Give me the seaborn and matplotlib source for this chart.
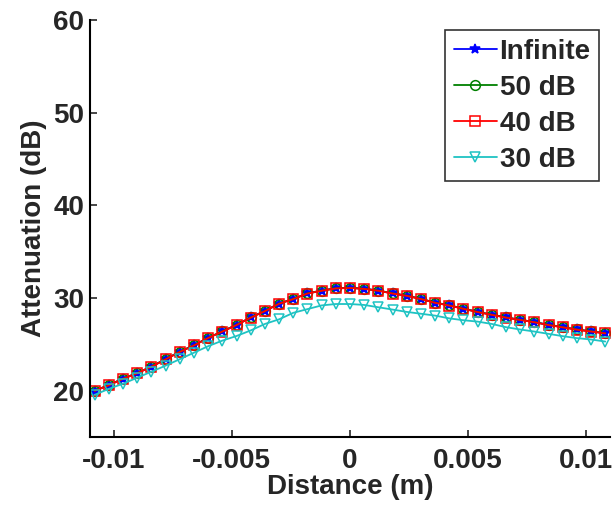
import numpy as np
import pandas as pd
import matplotlib
matplotlib.use("Agg")
import matplotlib.pyplot as plt
import seaborn as sns

# ---- data ----
distance_mm = [-10.8, -10.2, -9.6, -9.0, -8.4, -7.8, -7.2, -6.6, -6.0, -5.4,
               -4.8, -4.2, -3.6, -3.0, -2.4, -1.8, -1.2, -0.6, 0.0, 0.6,
               1.2, 1.8, 2.4, 3.0, 3.6, 4.2, 4.8, 5.4, 6.0, 6.6,
               7.2, 7.8, 8.4, 9.0, 9.6, 10.2, 10.8]
att_infinite = [20.0, 20.6, 21.3, 21.9, 22.6, 23.4, 24.2, 24.9, 25.7, 26.4,
                27.1, 27.9, 28.6, 29.4, 29.9, 30.5, 30.8, 31.05, 31.1, 31.0,
                30.8, 30.5, 30.25, 29.9, 29.5, 29.2, 28.85, 28.5, 28.2, 27.9,
                27.65, 27.4, 27.1, 26.85, 26.6, 26.4, 26.2]
att_50db = [20.0, 20.6, 21.3, 21.9, 22.6, 23.4, 24.2, 24.9, 25.7, 26.4,
            27.1, 27.9, 28.6, 29.4, 29.9, 30.5, 30.8, 31.05, 31.1, 31.0,
            30.8, 30.5, 30.25, 29.9, 29.5, 29.2, 28.85, 28.5, 28.2, 27.9,
            27.65, 27.4, 27.1, 26.85, 26.6, 26.4, 26.2]
att_40db = [19.98, 20.58, 21.28, 21.88, 22.58, 23.38, 24.18, 24.88, 25.68, 26.38,
            27.08, 27.88, 28.58, 29.38, 29.88, 30.48, 30.78, 31.03, 31.08, 30.98,
            30.78, 30.48, 30.23, 29.88, 29.48, 29.18, 28.83, 28.48, 28.18, 27.88,
            27.63, 27.38, 27.08, 26.83, 26.58, 26.38, 26.18]
att_30db = [19.55, 20.2, 20.75, 21.4, 22.05, 22.7, 23.4, 24.1, 24.8, 25.4,
            25.9, 26.5, 27.2, 27.7, 28.4, 28.8, 29.2, 29.35, 29.35, 29.25,
            29.0, 28.75, 28.5, 28.3, 28.1, 27.8, 27.6, 27.45, 27.2, 26.85,
            26.6, 26.38, 26.13, 25.88, 25.67, 25.52, 25.3]
series_names = ["Infinite", "50 dB", "40 dB", "30 dB"]
x_ticks = [-0.01, -0.005, 0, 0.005, 0.01]
x_tick_labels = ["-0.01", "-0.005", "0", "0.005", "0.01"]
y_ticks = [20, 30, 40, 50, 60]

series_values = [att_infinite, att_50db, att_40db, att_30db]
x_m = np.array(distance_mm) / 1000.0

# ---- style ----
sns.set_style("ticks")
plt.rcParams["font.family"] = ["Liberation Sans", "DejaVu Sans"]
plt.rcParams["font.weight"] = "bold"
plt.rcParams["axes.labelweight"] = "bold"

colors = ["#0000FF", "#008000", "#FF0000", "#1FC3C3"]
markers = ["*", "o", "s", "v"]
FS = 20

fig = plt.figure(figsize=(6.14, 5.08), dpi=100)
ax = fig.add_axes([0.1466, 0.1398, 0.8469, 0.8208])

for name, vals, c, m in zip(series_names, series_values, colors, markers):
    df = pd.DataFrame({"Distance": x_m, "Attenuation": vals})
    sns.lineplot(data=df, x="Distance", y="Attenuation", ax=ax, color=c,
                 marker=m, markersize=7 if m != "*" else 7.5,
                 markerfacecolor="none" if m != "*" else c,
                 markeredgecolor=c, markeredgewidth=1.1,
                 linewidth=1.3, label=name)

ax.set_xlim(-0.011, 0.011)
ax.set_ylim(15, 60)
ax.set_xticks(x_ticks)
ax.set_xticklabels(x_tick_labels)
ax.set_yticks(y_ticks)
ax.tick_params(direction="in", length=5, width=1.2, labelsize=FS, pad=4)
ax.tick_params(axis="x", pad=8)
for lab in ax.get_xticklabels() + ax.get_yticklabels():
    lab.set_fontweight("bold")
ax.set_xlabel("Distance (m)", fontsize=FS, fontweight="bold", labelpad=0)
ax.set_ylabel("Attenuation (dB)", fontsize=FS, fontweight="bold", labelpad=5)
for s in ["left", "bottom"]:
    ax.spines[s].set_linewidth(1.5)
    ax.spines[s].set_color("black")
sns.despine(ax=ax)

leg = ax.legend(loc="upper right", bbox_to_anchor=(0.995, 0.995), frameon=True,
                fancybox=False, edgecolor="black", fontsize=FS,
                handlelength=1.55, handletextpad=0.1, borderpad=0.3,
                labelspacing=0.36, borderaxespad=0.3)
leg.get_frame().set_linewidth(1.2)
for t in leg.get_texts():
    t.set_fontweight("bold")

fig.savefig("out.png", dpi=100)
